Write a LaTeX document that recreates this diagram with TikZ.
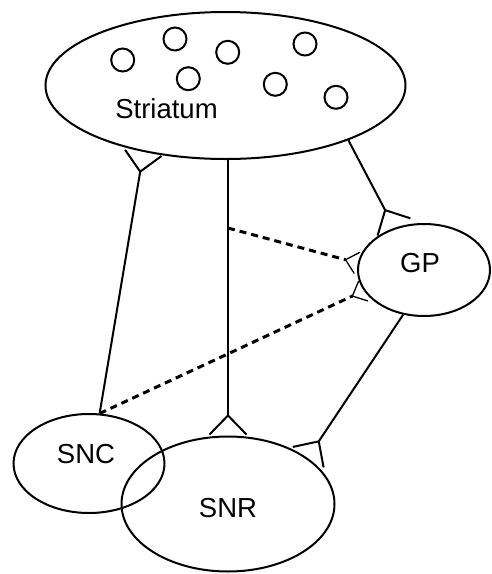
\documentclass[tikz,border=0pt]{standalone}
\usepackage{fontspec}
\setmainfont{Liberation Sans}
\usetikzlibrary{shapes.geometric, arrows.meta}

\begin{document}
\begin{tikzpicture}[x=1pt, y=-1pt, thick,
                    font=\fontsize{27.5}{31}\selectfont,
                    region/.style= {ellipse,
                      draw,
                      line width=2pt,
                      inner sep=0pt},
                    cell/.style= {circle,
                      draw,
                      line width=2pt,
                      minimum size=23pt},
                    link/.style= {line width=2pt},
                    inhib/.style= {line width=3pt,
                      dash pattern=on 7pt off 5pt},
                    fork/.tip= {Straight Barb[reversed, length=19pt, width=37pt, line width=2pt]},
                    dfork/.tip= {Straight Barb[reversed, length=12pt, width=22pt, line width=1.3pt]}]

  \useasboundingbox (0,0) rectangle (491,574);

  \node[region, minimum width=360pt, minimum height=147pt,
        label={[xshift=-59pt, yshift=-23pt]center:Striatum}] (str) at (225.5,85.5) {};
  \node[region, minimum width=132pt, minimum height=92pt,
        label={[xshift=-4pt, yshift=7pt]center:GP}] (gp) at (424,270) {};
  \node[region, minimum width=151pt, minimum height=99pt,
        label={[xshift=-3pt, yshift=9.5pt]center:SNC}] (snc) at (89,463.5) {};
  \node[region, minimum width=213pt, minimum height=135pt,
        label={[yshift=-4pt]center:SNR}] (snr) at (228,504) {};

  % cells inside the striatum
  \node[cell] (c1) at (122.7,60) {};
  \node[cell] (c2) at (175,39) {};
  \node[cell] (c3) at (227.7,52.3) {};
  \node[cell] (c4) at (305,44) {};
  \node[cell] (c5) at (188.3,78.7) {};
  \node[cell] (c6) at (275.3,84.3) {};
  \node[cell] (c7) at (336,97.3) {};

  \coordinate (tap) at (228,228);

  \draw[link, -fork] (snc.78) -- (str.219);
  \draw[link, -fork] (str.south -| snr.north) -- (snr.north);
  \draw[link, -fork] (str.336) -- (gp.125);
  \draw[link, -fork] (gp.245) -- (snr.30);
  \draw[inhib, -dfork] (tap) -- (gp.174);
  \draw[inhib, -dfork] (snc.78) -- (gp.199);
\end{tikzpicture}
\end{document}
